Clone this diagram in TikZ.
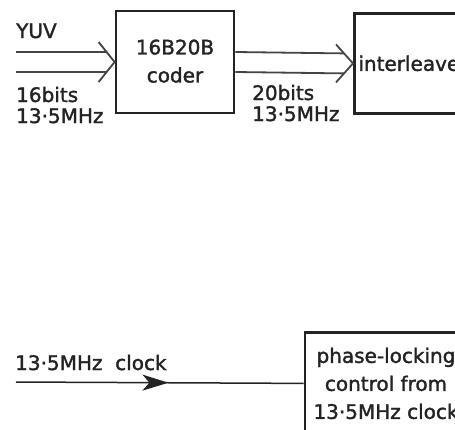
\documentclass[tikz,border=0pt]{standalone}
\usepackage{fontspec}
\setmainfont{DejaVu Sans}[FakeBold=1.6]
\usetikzlibrary{positioning, calc, arrows.meta, decorations.markings}
\definecolor{ink}{RGB}{35,35,35}

\tikzset{
  blockbox/.style={draw=ink, line width=2.8pt, align=center, text=ink},
  buslines/.style={draw=ink!85, line width=1.8pt, line join=miter},
  lbl/.style={inner sep=0pt, text=ink, align=left, font=\fontsize{20}{21}\selectfont},
}

\begin{document}
\begin{tikzpicture}[x=1pt, y=-1pt, font=\fontsize{20}{28}\selectfont]
  \useasboundingbox (0,0) rectangle (455,429);
  \clip (0,0) rectangle (455,429);
  % blocks
  \node[blockbox, minimum width=118pt, minimum height=102pt, text depth=2pt] (coder) at (175,62) {16B20B\\coder};
  \node[blockbox, anchor=north west, minimum height=100pt, text width=112pt, inner xsep=4pt, align=left] (ilv) at (353,12) {interleaver};
  \node[blockbox, anchor=north, minimum width=162pt, minimum height=102pt] (plc) at (386,331) {phase-locking\\control from\\13·5MHz clock};
  % input bus
  \coordinate (yuvin) at (16,62);
  \draw[buslines] ($(yuvin)+(0,-10)$) -- ($(coder.west)+(-8,-10)$)
                  ($(yuvin)+(0,10)$) -- ($(coder.west)+(-8,10)$);
  \draw[buslines] ($(coder.west)+(-16,-20)$) -- (coder.west) -- ($(coder.west)+(-16,20)$);
  % coded bus
  \draw[buslines] ($(coder.east)+(0,-10)$) -- ($(ilv.west)+(-9,-10)$)
                  ($(coder.east)+(0,10)$) -- ($(ilv.west)+(-9,10)$);
  \draw[buslines] ($(ilv.west)+(-17,-19)$) -- (ilv.west) -- ($(ilv.west)+(-17,19)$);
  % clock
  \coordinate (clkin) at (16,382);
  \draw[ink, line width=1.5pt, postaction={decorate},
        decoration={markings, mark=at position 0.53 with {\arrow{Stealth[length=26pt, width=16pt, inset=7pt]}}}]
    (clkin) -- (plc.west);
  % labels
  \node[lbl, anchor=base west] (yuvlbl) at (16,38) {YUV};
  \node[lbl, anchor=base west] (inlbl) at (16,123) {16bits\\13·5MHz};
  \node[lbl, anchor=base west] (outlbl) at (252,121) {20bits\\13·5MHz};
  \node[lbl, anchor=base west] (clklbl) at (15,370) {13·5MHz\ \ clock};
\end{tikzpicture}
\end{document}
